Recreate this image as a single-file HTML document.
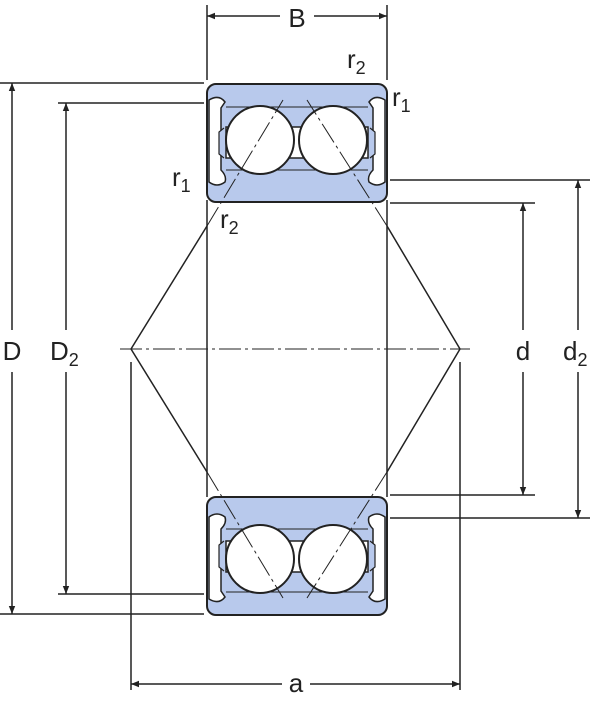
<!DOCTYPE html>
<html><head><style>
html,body{margin:0;padding:0;background:#fff;}
svg{display:block;}
text{font-family:"Liberation Sans",sans-serif;fill:#222;}
</style></head><body>
<svg width="600" height="703" viewBox="0 0 600 703" xmlns="http://www.w3.org/2000/svg">
<defs>
<marker id="ar" viewBox="0 0 10 10" refX="10" refY="5" markerWidth="12" markerHeight="8" orient="auto-start-reverse" markerUnits="userSpaceOnUse">
<path d="M0,1 L10,5 L0,9 z" fill="#222"/>
</marker>
<g id="blk">
<rect x="207" y="84" width="180" height="118" rx="9" fill="#b8c9ec" stroke="#222" stroke-width="2"/>
<rect x="226" y="127" width="142" height="31" fill="#fff" stroke="#222" stroke-width="1.5"/>
<line x1="226" y1="107" x2="368" y2="107" stroke="#222" stroke-width="1"/>
<line x1="226" y1="170" x2="368" y2="170" stroke="#222" stroke-width="1"/>
<path d="M209,100 q10,-6 16,2 l-4,6 l0,62 q6,6 4,12 q-8,6 -16,0 z" fill="#fff" stroke="#222" stroke-width="1.5"/>
<path d="M385,100 q-10,-6 -16,2 l4,6 l0,62 q-6,6 -4,12 q8,6 16,0 z" fill="#fff" stroke="#222" stroke-width="1.5"/>
<path d="M224,128 l-5,4 l0,22 l5,4" fill="#b8c9ec" stroke="#222" stroke-width="1.2"/>
<path d="M370,128 l5,4 l0,22 l-5,4" fill="#b8c9ec" stroke="#222" stroke-width="1.2"/>
<circle cx="260" cy="140" r="34" fill="#fff" stroke="#222" stroke-width="2"/>
<circle cx="333" cy="140" r="34" fill="#fff" stroke="#222" stroke-width="2"/>
</g>
</defs>
<use href="#blk"/>
<use href="#blk" transform="translate(0,699) scale(1,-1)"/>
<g stroke="#222" fill="none" stroke-width="1.5">
<line x1="207" y1="200" x2="207" y2="497"/>
<line x1="387" y1="200" x2="387" y2="497"/>
<line x1="207" y1="5" x2="207" y2="80"/>
<line x1="387" y1="5" x2="387" y2="80"/>
<line x1="0" y1="83" x2="204" y2="83"/>
<line x1="0" y1="614" x2="204" y2="614"/>
<line x1="58" y1="103" x2="204" y2="103"/>
<line x1="58" y1="594" x2="204" y2="594"/>
<line x1="390" y1="203" x2="535" y2="203"/>
<line x1="390" y1="495" x2="535" y2="495"/>
<line x1="390" y1="180" x2="590" y2="180"/>
<line x1="390" y1="518" x2="590" y2="518"/>
<line x1="131" y1="362" x2="131" y2="690"/>
<line x1="460" y1="362" x2="460" y2="690"/>
<line x1="207" y1="16" x2="280" y2="16" marker-start="url(#ar)"/>
<line x1="314" y1="16" x2="387" y2="16" marker-end="url(#ar)"/>
<line x1="12" y1="83" x2="12" y2="330" marker-start="url(#ar)"/>
<line x1="12" y1="372" x2="12" y2="614" marker-end="url(#ar)"/>
<line x1="66" y1="103" x2="66" y2="330" marker-start="url(#ar)"/>
<line x1="66" y1="372" x2="66" y2="594" marker-end="url(#ar)"/>
<line x1="523" y1="203" x2="523" y2="330" marker-start="url(#ar)"/>
<line x1="523" y1="372" x2="523" y2="495" marker-end="url(#ar)"/>
<line x1="578" y1="180" x2="578" y2="330" marker-start="url(#ar)"/>
<line x1="578" y1="372" x2="578" y2="518" marker-end="url(#ar)"/>
<line x1="131" y1="684" x2="282" y2="684" marker-start="url(#ar)"/>
<line x1="310" y1="684" x2="460" y2="684" marker-end="url(#ar)"/>
<line x1="131" y1="349" x2="207" y2="226" />
<line x1="131" y1="349" x2="207" y2="472" />
<line x1="460" y1="349" x2="387" y2="226" />
<line x1="460" y1="349" x2="387" y2="472" />
</g>
<g stroke="#222" fill="none" stroke-width="1" stroke-dasharray="22,4,3,4">
<line x1="120" y1="349" x2="470" y2="349"/>
<line x1="207" y1="226" x2="283" y2="100"/>
<line x1="207" y1="472" x2="283" y2="598"/>
<line x1="387" y1="226" x2="307" y2="100"/>
<line x1="387" y1="472" x2="307" y2="598"/>
</g>
<g font-size="26">
<text x="297" y="27" text-anchor="middle">B</text>
<text x="347" y="68">r<tspan font-size="18" dy="6">2</tspan></text>
<text x="392" y="106">r<tspan font-size="18" dy="6">1</tspan></text>
<text x="172" y="186">r<tspan font-size="18" dy="6">1</tspan></text>
<text x="220" y="228">r<tspan font-size="18" dy="6">2</tspan></text>
<text x="12" y="360" text-anchor="middle">D</text>
<text x="50" y="360">D<tspan font-size="18" dy="6">2</tspan></text>
<text x="523" y="360" text-anchor="middle">d</text>
<text x="563" y="360">d<tspan font-size="18" dy="6">2</tspan></text>
<text x="296" y="692" text-anchor="middle">a</text>
</g>
</svg>
</body></html>
